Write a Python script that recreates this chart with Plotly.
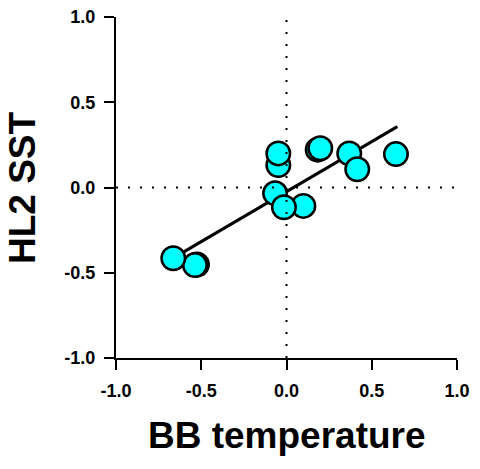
import plotly.graph_objects as go

# Data
bb_temperature = [-0.525, -0.537, -0.664, -0.048, -0.048, -0.067, 0.099, -0.015,
                  0.183, 0.198, 0.368, 0.415, 0.642]
hl2_sst = [-0.452, -0.455, -0.415, 0.132, 0.200, -0.034, -0.108, -0.116,
           0.222, 0.230, 0.200, 0.107, 0.196]

fit_x = [-0.62, 0.65]
fit_y = [-0.388, 0.357]

tick_vals = [-1.0, -0.5, 0.0, 0.5, 1.0]
tick_text = ["-1.0", "-0.5", "0.0", "0.5", "1.0"]

x_title = "BB temperature"
y_title = "HL2 SST"

FONT = "Liberation Sans, Arial, Helvetica, sans-serif"

fig = go.Figure()
fig.add_trace(go.Scatter(
    x=fit_x, y=fit_y, mode="lines",
    line=dict(color="black", width=3), hoverinfo="skip", showlegend=False))
fig.add_trace(go.Scatter(
    x=bb_temperature, y=hl2_sst, mode="markers",
    marker=dict(size=23.5, color="#00FFFF", line=dict(color="black", width=2.5)),
    showlegend=False))

# dotted zero lines (drawn above markers)
fig.add_shape(type="line", x0=-1, x1=1, y0=0, y1=0, xref="x", yref="y",
              line=dict(color="black", width=2, dash="2px,10px"), layer="above")
fig.add_shape(type="line", x0=0, x1=0, y0=-1, y1=1, xref="x", yref="y",
              line=dict(color="black", width=2, dash="2px,10px"), layer="above")

axis_common = dict(
    range=[-1, 1], tickvals=tick_vals, ticktext=tick_text,
    showline=True, linecolor="black", linewidth=2,
    ticks="outside", ticklen=10, tickwidth=2, tickcolor="black",
    showgrid=False, zeroline=False, automargin=False,
    ticklabeloverflow="allow",
    tickfont=dict(family=FONT, size=18, color="black", weight="bold"),
)

title_font = dict(family=FONT, size=37, color="black", weight="bold")

fig.update_layout(
    width=480, height=469,
    margin=dict(l=116, r=23, t=17, b=111),
    paper_bgcolor="white", plot_bgcolor="white",
    xaxis=dict(**axis_common, ticklabelstandoff=5),
    yaxis=dict(**axis_common, ticklabelstandoff=5),
    annotations=[
        dict(text=x_title, xref="paper", yref="paper", x=0.5, y=0,
             xanchor="center", yanchor="middle", yshift=-77,
             showarrow=False, font=title_font),
        dict(text=y_title, xref="paper", yref="paper", x=0, y=0.5,
             xanchor="center", yanchor="middle", xshift=-93.5, textangle=-90,
             showarrow=False, font=title_font),
    ],
)

fig.write_html("out.html", config={"displayModeBar": False},
               post_script="document.body.style.margin='0';")
